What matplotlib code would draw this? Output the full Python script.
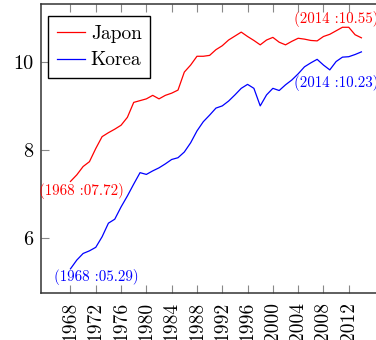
import matplotlib
matplotlib.use("Agg")
import matplotlib.pyplot as plt

plt.rcParams["font.family"] = ["cmr10", "DejaVu Serif"]
plt.rcParams["axes.formatter.use_mathtext"] = True

years = list(range(1968, 2015))
japon = [7.28, 7.43, 7.62, 7.73, 8.03, 8.30, 8.39, 8.47, 8.56, 8.74,
         9.08, 9.12, 9.16, 9.24, 9.16, 9.24, 9.29, 9.36, 9.77, 9.93,
         10.13, 10.13, 10.15, 10.28, 10.37, 10.50, 10.59, 10.68, 10.58, 10.49,
         10.39, 10.50, 10.56, 10.45, 10.39, 10.47, 10.54, 10.52, 10.49, 10.48,
         10.58, 10.63, 10.71, 10.79, 10.79, 10.62, 10.55]
korea = [5.29, 5.49, 5.64, 5.70, 5.78, 6.02, 6.33, 6.42, 6.70, 6.95,
         7.22, 7.48, 7.44, 7.52, 7.59, 7.68, 7.78, 7.82, 7.95, 8.16,
         8.43, 8.64, 8.79, 8.95, 9.00, 9.11, 9.25, 9.40, 9.49, 9.40,
         9.00, 9.25, 9.40, 9.35, 9.48, 9.59, 9.73, 9.89, 9.98, 10.06,
         9.93, 9.82, 10.01, 10.11, 10.12, 10.17, 10.23]
series_names = ["Japon", "Korea"]
series_colors = ["#ff0000", "#0000ff"]
xticks = list(range(1968, 2013, 4))
yticks = [6, 8, 10]
point_labels = ["(1968 :07.72)", "(2014 :10.55)", "(1968 :05.29)", "(2014 :10.23)"]

fig = plt.figure(figsize=(3.76, 3.40), dpi=100)
ax = fig.add_axes([41 / 376, 47 / 340, 349 / 376, 289 / 340])

for vals, name, col in zip([japon, korea], series_names, series_colors):
    ax.plot(years, vals, color=col, lw=0.9, label=name)

ax.set_xlim(1963.34, 2018.52)
ax.set_ylim(4.74, 11.32)
ax.set_xticks(xticks)
ax.set_xticklabels([str(y) for y in xticks], rotation=90, fontsize=14)
ax.set_yticks(yticks)
ax.set_yticklabels([str(v) for v in yticks], fontsize=14.6)
ax.tick_params(axis="x", direction="in", top=True, length=6, width=0.8,
               color="#888888", pad=6.5)
ax.tick_params(axis="y", direction="in", right=True, length=6, width=0.8,
               color="#888888", pad=5.5)
for sp in ax.spines.values():
    sp.set_color("#333333")
    sp.set_linewidth(1.1)

# end-point annotations
anno = [
    (years[0], japon[0], point_labels[0], series_colors[0], (11, -10)),
    (years[-1], japon[-1], point_labels[1], series_colors[0], (-25, 19)),
    (years[0], korea[0], point_labels[2], series_colors[1], (25.5, -8.5)),
    (years[-1], korea[-1], point_labels[3], series_colors[1], (-25, -31.5)),
]
for x, y, txt, col, off in anno:
    ax.annotate(txt, xy=(x, y), xytext=off, textcoords="offset pixels",
                ha="center", va="center", color=col, fontsize=10.8,
                annotation_clip=False)

leg = ax.legend(loc="upper left", bbox_to_anchor=(7 / 349, 1 - 12 / 289),
                borderaxespad=0, fontsize=14, frameon=True, fancybox=False,
                edgecolor="black", framealpha=1, handlelength=1.45,
                handletextpad=0.3, labelspacing=0.45, borderpad=0.45)
leg.get_frame().set_linewidth(1.0)

fig.savefig("out.png", dpi=100)
